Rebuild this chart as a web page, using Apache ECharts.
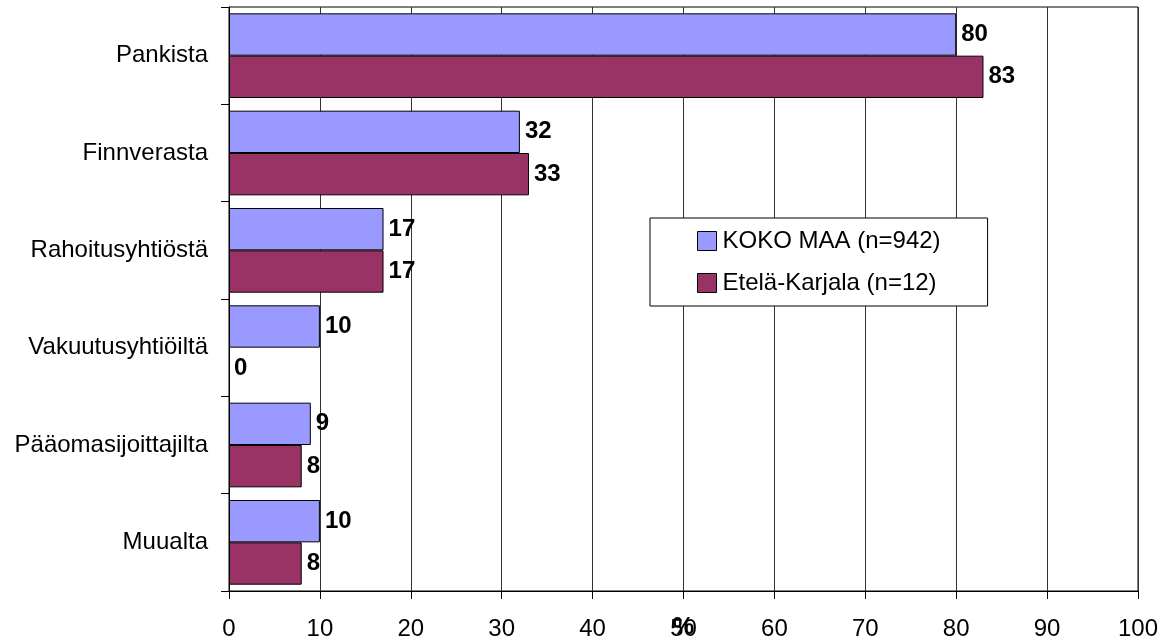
<!DOCTYPE html>
<html>
<head>
<meta charset="utf-8">
<script src="https://cdn.jsdelivr.net/npm/echarts@6/dist/echarts.min.js"></script>
<style>html,body{margin:0;padding:0;background:#fff;}#c{width:1171px;height:643px;}</style>
</head>
<body>
<div id="c"></div>
<script>
const categories = ['Pankista', 'Finnverasta', 'Rahoitusyhtiöstä', 'Vakuutusyhtiöiltä', 'Pääomasijoittajilta', 'Muualta'];
const seriesNames = ['KOKO MAA (n=942)', 'Etelä-Karjala (n=12)'];
const kokoMaa = [80, 32, 17, 10, 9, 10];
const etelaKarjala = [83, 33, 17, 0, 8, 8];
const xTicks = [0, 10, 20, 30, 40, 50, 60, 70, 80, 90, 100];

const FONT = 'Liberation Sans, Arial, sans-serif';
const FS = 24;
const chart = echarts.init(document.getElementById('c'));
const labelStyle = {show: true, position: 'right', distance: 5, color: '#000', fontWeight: 'bold', fontSize: FS, fontFamily: FONT};
const toItems = arr => arr.map(v => v === 0 ? {value: v, itemStyle: {borderWidth: 0}} : v);
chart.setOption({
  animation: false,
  grid: {left: 229, right: 33, top: 7, bottom: 52, show: true, borderColor: '#000', borderWidth: 1,
         containLabel: false, outerBoundsMode: 'none'},
  legend: {
    orient: 'vertical', left: 650, top: 218,
    padding: [11, 47, 11, 47], itemGap: 18,
    backgroundColor: '#fff', borderColor: '#000', borderWidth: 1,
    itemWidth: 19, itemHeight: 19, icon: 'rect',
    textStyle: {fontSize: FS, fontFamily: FONT, color: '#000', padding: [0, 0, 0, 1]},
    itemStyle: {borderColor: '#000', borderWidth: 1},
    data: seriesNames
  },
  xAxis: {
    type: 'value', min: xTicks[0], max: xTicks[xTicks.length - 1], interval: 10,
    name: '%', nameLocation: 'middle', nameGap: 24, nameMoveOverlap: false,
    nameTextStyle: {fontSize: FS, fontFamily: FONT, color: '#000', fontWeight: 'bold'},
    axisLine: {show: true, lineStyle: {color: '#000'}},
    axisTick: {show: true, length: 8, lineStyle: {color: '#000'}},
    axisLabel: {fontSize: FS, fontFamily: FONT, color: '#000', margin: 26},
    splitLine: {show: true, lineStyle: {color: '#333', width: 1}}
  },
  yAxis: {
    type: 'category', data: categories, inverse: true,
    axisLine: {show: true, lineStyle: {color: '#000'}},
    axisTick: {show: true, length: 8, lineStyle: {color: '#000'}},
    axisLabel: {fontSize: FS, fontFamily: FONT, color: '#000', margin: 21, padding: [6, 0, 0, 0]}
  },
  series: [
    {name: seriesNames[0], type: 'bar', data: toItems(kokoMaa), barGap: '0%', barCategoryGap: '13%',
     itemStyle: {color: '#9999FF', borderColor: '#000', borderWidth: 1}, label: labelStyle},
    {name: seriesNames[1], type: 'bar', data: toItems(etelaKarjala), barGap: '0%', barCategoryGap: '13%',
     itemStyle: {color: '#993366', borderColor: '#000', borderWidth: 1}, label: labelStyle}
  ]
});
</script>
</body>
</html>
